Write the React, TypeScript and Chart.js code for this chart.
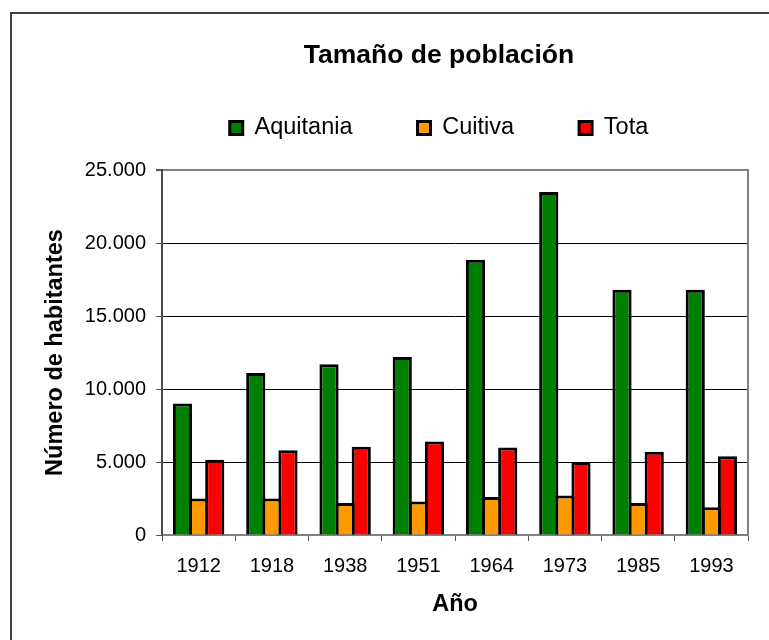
import React, { useEffect, useRef } from "react";
import { Chart, registerables } from "chart.js";

Chart.register(...registerables);

const years = ["1912", "1918", "1938", "1951", "1964", "1973", "1985", "1993"];
const aquitania = [9000, 11100, 11700, 12200, 18850, 23500, 16800, 16800];
const cuitiva = [2500, 2500, 2200, 2300, 2600, 2700, 2200, 1900];
const tota = [5150, 5800, 6050, 6400, 6000, 5000, 5700, 5400];
const yTickLabels = ["0", "5.000", "10.000", "15.000", "20.000", "25.000"];
const seriesNames = ["Aquitania", "Cuitiva", "Tota"];
const chartTitle = "Tamaño de población";
const xTitle = "Año";
const yTitle = "Número de habitantes";

const FONT = "'Liberation Sans', Arial, Helvetica, sans-serif";
const W = 878;
const H = 680;

export default function App() {
  const ref = useRef<HTMLCanvasElement | null>(null);

  useEffect(() => {
    if (!ref.current) return;
    const chart = new Chart(ref.current, {
      type: "bar",
      data: {
        labels: years,
        datasets: [
          { label: seriesNames[0], data: aquitania, backgroundColor: "#008000" },
          { label: seriesNames[1], data: cuitiva, backgroundColor: "#FF9900" },
          { label: seriesNames[2], data: tota, backgroundColor: "#FF0000" },
        ].map((d) => ({
          ...d,
          borderColor: "#000000",
          borderWidth: 3,
          borderSkipped: "start",
          categoryPercentage: 0.66,
          barPercentage: 1.19,
        })),
      },
      options: {
        responsive: false,
        animation: false,
        color: "#000",
        layout: { padding: { top: 40, left: 0, right: 0, bottom: 0 } },
        plugins: {
          tooltip: { enabled: false },
          title: {
            display: true,
            text: chartTitle,
            color: "#000",
            font: { family: FONT, size: 26.5, weight: "bold", lineHeight: 1.2 },
            padding: { top: 0, bottom: -20.55 },
          },
          legend: {
            display: true,
            position: "top",
            labels: {
              color: "#000",
              font: { family: FONT, size: 23.5 },
              boxWidth: 13,
              boxHeight: 13,
              padding: 65,
            },
          },
          subtitle: {
            display: true,
            text: "",
            weight: 500,
            font: { family: FONT, size: 10, lineHeight: 1 },
            padding: { top: 10.25, bottom: 0 },
          },
        },
        scales: {
          x: {
            type: "category",
            offset: true,
            grid: {
              offset: true,
              drawOnChartArea: false,
              drawTicks: true,
              tickLength: 6,
              color: "#555",
            },
            border: { display: true, color: "#808080", width: 2 },
            ticks: {
              color: "#000",
              font: { family: FONT, size: 20 },
              padding: 13,
              maxRotation: 0,
            },
            title: {
              display: true,
              text: xTitle,
              color: "#000",
              font: { family: FONT, size: 23.5, weight: "bold", lineHeight: 1.2 },
              padding: { top: 0, bottom: 60.9 },
            },
            afterFit: (s: any) => {
              s.height = H - 535;
            },
          },
          y: {
            type: "linear",
            position: "left",
            min: 0,
            max: 25000,
            ticks: {
              stepSize: 5000,
              color: "#000",
              font: { family: FONT, size: 20 },
              padding: 10,
              callback: (_v: any, i: number) => yTickLabels[i],
            },
            grid: {
              color: (c: any) =>
                c.tick && (c.tick.value === 25000 || c.tick.value === 0) ? "#808080" : "#000000",
              lineWidth: (c: any) => (c.tick && c.tick.value === 25000 ? 2 : 1),
              tickColor: "#555",
              tickLength: 6,
              drawTicks: true,
            },
            border: { display: true, color: "#4a4a4a", width: 2 },
            title: {
              display: true,
              text: yTitle,
              color: "#000",
              font: { family: FONT, size: 23.5, weight: "bold", lineHeight: 1.2 },
              padding: { top: 41.9, bottom: 0 },
            },
            afterFit: (s: any) => {
              s.width = 162;
            },
          },
          yRight: {
            type: "linear",
            position: "right",
            display: true,
            min: 0,
            max: 25000,
            ticks: { display: false },
            grid: { drawOnChartArea: false, drawTicks: false },
            border: { display: true, color: "#808080", width: 2 },
            afterFit: (s: any) => {
              s.width = W - 748;
            },
          },
        },
      } as any,
    });
    return () => chart.destroy();
  }, []);

  return (
    <div
      style={{
        position: "fixed",
        left: 0,
        top: 0,
        width: 769,
        height: 640,
        overflow: "hidden",
        background: "#fff",
      }}
    >
      <div style={{ position: "relative", width: W, height: H }}>
        <canvas ref={ref} width={W} height={H} style={{ display: "block", width: W, height: H }} />
        <div
          style={{
            position: "absolute",
            left: 10,
            top: 12,
            width: W,
            height: H,
            borderTop: "2px solid #404040",
            borderLeft: "2px solid #404040",
            pointerEvents: "none",
          }}
        />
      </div>
    </div>
  );
}
